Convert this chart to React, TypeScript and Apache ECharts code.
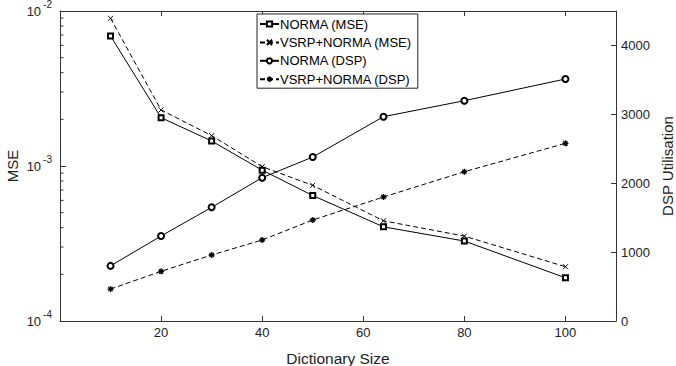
import React, { useEffect, useRef } from 'react';
import * as echarts from 'echarts';

const dictSizes = [10, 20, 30, 40, 50, 64, 80, 100];
const normaMSE = [6.9e-3, 2.05e-3, 1.45e-3, 9.4e-4, 6.45e-4, 4.05e-4, 3.28e-4, 1.9e-4];
const vsrpMSE = [8.97e-3, 2.3e-3, 1.57e-3, 9.9e-4, 7.5e-4, 4.43e-4, 3.53e-4, 2.24e-4];
const normaDSP = [800, 1234, 1650, 2080, 2380, 2966, 3198, 3513];
const vsrpDSP = [464, 721, 958, 1176, 1466, 1800, 2167, 2579];
const seriesNames = ['NORMA (MSE)', 'VSRP+NORMA (MSE)', 'NORMA (DSP)', 'VSRP+NORMA (DSP)'];
const mseMinorTicks = [
  2e-4, 3e-4, 4e-4, 5e-4, 6e-4, 7e-4, 8e-4, 9e-4,
  2e-3, 3e-3, 4e-3, 5e-3, 6e-3, 7e-3, 8e-3, 9e-3,
];

const FONT = '"Liberation Sans", Arial, Helvetica, sans-serif';
const AXIS_COLOR = '#333';
const TEXT_COLOR = '#222';

const X_SYMBOL = 'path://M0,0L10,10M10,0L0,10';
const STAR_SYMBOL = 'path://M5,0L5,10M0,5L10,5M1.5,1.5L8.5,8.5M8.5,1.5L1.5,8.5';

export default function App() {
  const ref = useRef<HTMLDivElement>(null);

  useEffect(() => {
    document.body.style.margin = '0';
    if (!ref.current) return;
    const chart = echarts.init(ref.current, null, { renderer: 'svg' });

    const pair = (ys: number[]) => dictSizes.map((x, i) => [x, ys[i]]);

    const baseX = {
      type: 'value',
      min: 0,
      max: 110,
      interval: 20,
      splitLine: { show: false },
      axisLine: { show: true, onZero: false, lineStyle: { color: AXIS_COLOR, width: 1 } },
      axisTick: { show: true, inside: true, length: 5, lineStyle: { color: AXIS_COLOR } },
    };

    const option: any = {
      animation: false,
      textStyle: { fontFamily: FONT },
      grid: { left: 60, right: 60, top: 11, bottom: 45, containLabel: false, outerBoundsMode: 'none' },
      legend: {
        data: seriesNames,
        orient: 'vertical',
        left: 257,
        top: 14,
        padding: [3, 6, 2, 2],
        itemWidth: 19,
        itemHeight: 6.5,
        itemGap: 4.4,
        backgroundColor: '#fff',
        borderColor: '#222',
        borderWidth: 1,
        borderRadius: 0,
        textStyle: { fontSize: 13, lineHeight: 14, color: '#000', fontFamily: FONT, padding: [0, 0, 0, -4] },
      },
      xAxis: [
        {
          ...baseX,
          position: 'bottom',
          name: 'Dictionary Size',
          nameLocation: 'middle',
          nameGap: 29,
          nameMoveOverlap: false,
          nameTextStyle: { fontSize: 15.5, color: TEXT_COLOR, fontFamily: FONT },
          axisLabel: {
            fontSize: 13,
            color: TEXT_COLOR,
            margin: 5,
            showMinLabel: false,
            showMaxLabel: false,
            fontFamily: FONT,
          },
        },
        {
          ...baseX,
          position: 'top',
          axisLabel: { show: false },
        },
      ],
      yAxis: [
        {
          type: 'log',
          logBase: 10,
          min: 1e-4,
          max: 1e-2,
          position: 'left',
          name: 'MSE',
          nameLocation: 'middle',
          nameGap: 40,
          nameMoveOverlap: false,
          nameTextStyle: { fontSize: 15, color: TEXT_COLOR, fontFamily: FONT },
          splitLine: { show: false },
          axisLine: { show: true, onZero: false, lineStyle: { color: AXIS_COLOR, width: 1 } },
          axisTick: { show: true, inside: true, length: 6, lineStyle: { color: AXIS_COLOR } },
          axisLabel: {
            margin: 8,
            color: TEXT_COLOR,
            formatter: (v: number) => `{b|10}{s|${Math.round(Math.log10(v))}}`,
            rich: {
              b: { fontSize: 13, color: TEXT_COLOR, fontFamily: FONT, verticalAlign: 'middle' },
              s: { fontSize: 10, color: TEXT_COLOR, fontFamily: FONT, lineHeight: 24, verticalAlign: 'top', padding: [0, 0, 0, 2] },
            },
          },
        },
        {
          type: 'value',
          min: 0,
          max: 4500,
          interval: 1000,
          position: 'right',
          name: 'DSP Utilisation',
          nameLocation: 'middle',
          nameRotate: 90,
          nameGap: 44,
          nameMoveOverlap: false,
          nameTextStyle: { fontSize: 15, color: TEXT_COLOR, fontFamily: FONT },
          splitLine: { show: false },
          axisLine: { show: true, onZero: false, lineStyle: { color: AXIS_COLOR, width: 1 } },
          axisTick: { show: true, inside: true, length: 5, lineStyle: { color: AXIS_COLOR } },
          axisLabel: {
            fontSize: 13,
            color: TEXT_COLOR,
            margin: 5,
            showMaxLabel: false,
            fontFamily: FONT,
            formatter: (v: number) => String(v),
          },
        },
      ],
      series: [
        {
          name: seriesNames[0],
          type: 'line',
          xAxisIndex: 0,
          yAxisIndex: 0,
          data: pair(normaMSE),
          symbol: 'emptyRect',
          symbolSize: 5,
          lineStyle: { color: '#000', width: 1, type: 'solid' },
          itemStyle: { color: '#000', borderColor: '#000', borderWidth: 1 },
        },
        {
          name: seriesNames[1],
          type: 'line',
          xAxisIndex: 0,
          yAxisIndex: 0,
          data: pair(vsrpMSE),
          symbol: X_SYMBOL,
          symbolSize: 5,
          lineStyle: { color: '#000', width: 1, type: [5, 3] },
          itemStyle: { color: '#000', borderColor: '#000', borderWidth: 1 },
        },
        {
          name: seriesNames[2],
          type: 'line',
          xAxisIndex: 0,
          yAxisIndex: 1,
          data: pair(normaDSP),
          symbol: 'emptyCircle',
          symbolSize: 6,
          lineStyle: { color: '#000', width: 1, type: 'solid' },
          itemStyle: { color: '#000', borderColor: '#000', borderWidth: 1 },
        },
        {
          name: seriesNames[3],
          type: 'line',
          xAxisIndex: 0,
          yAxisIndex: 1,
          data: pair(vsrpDSP),
          symbol: STAR_SYMBOL,
          symbolSize: 6,
          lineStyle: { color: '#000', width: 1, type: [5, 3] },
          itemStyle: { color: '#000', borderColor: '#000', borderWidth: 1.3 },
        },
        {
          name: 'minorTicks',
          type: 'custom',
          xAxisIndex: 0,
          yAxisIndex: 0,
          silent: true,
          data: mseMinorTicks.map((v) => [0, v]),
          renderItem: (_params: any, api: any) => {
            const p = api.coord([0, api.value(1)]);
            return {
              type: 'line',
              shape: { x1: p[0], y1: p[1], x2: p[0] + 3.5, y2: p[1] },
              style: { stroke: AXIS_COLOR, lineWidth: 1 },
            };
          },
        },
      ],
    };

    chart.setOption(option);
    return () => chart.dispose();
  }, []);

  return <div ref={ref} style={{ width: 676, height: 366 }} />;
}
